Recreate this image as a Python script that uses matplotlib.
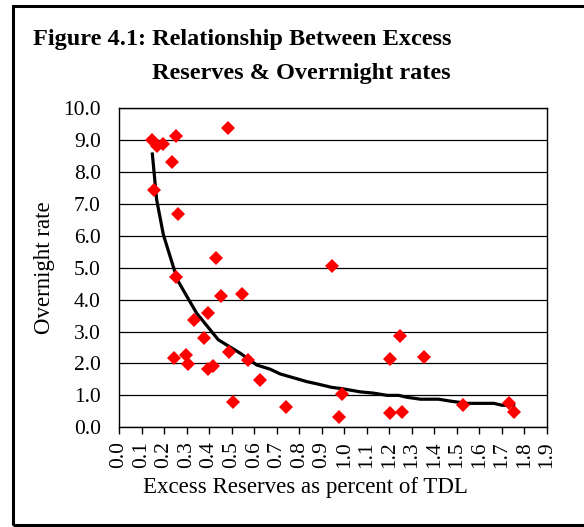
import matplotlib
matplotlib.use("Agg")
import matplotlib.pyplot as plt
from matplotlib.patches import Rectangle

# excess reserves (% of TDL) vs overnight rate
reserves = [0.147, 0.168, 0.196, 0.255, 0.237, 0.156, 0.261, 0.486, 0.430,
            0.253, 0.452, 0.548, 0.333, 0.394, 0.379, 0.244, 0.298, 0.308,
            0.394, 0.416, 0.490, 0.572, 0.627, 0.504, 0.742, 0.945, 0.990,
            0.975, 1.201, 1.246, 1.352, 1.201, 1.256, 1.528, 1.733, 1.752]
rates = [9.00, 8.82, 8.87, 9.13, 8.32, 7.44, 6.68, 9.36, 5.30,
         4.70, 4.12, 4.18, 3.36, 3.57, 2.81, 2.18, 2.27, 1.97,
         1.82, 1.93, 2.37, 2.11, 1.48, 0.80, 0.65, 5.06, 1.03,
         0.31, 2.13, 2.87, 2.19, 0.44, 0.49, 0.70, 0.77, 0.49]

# fitted trend line as drawn in the original
trend_x = [0.148, 0.167, 0.197, 0.259, 0.293, 0.345, 0.441, 0.478, 0.538,
           0.612, 0.671, 0.716, 0.790, 0.834, 0.879, 0.945, 0.990, 1.071,
           1.130, 1.190, 1.241, 1.279, 1.338, 1.419, 1.471, 1.545, 1.664,
           1.701, 1.752]
trend_y = [8.56, 7.13, 6.03, 4.62, 4.20, 3.57, 2.74, 2.58, 2.32,
           1.95, 1.82, 1.67, 1.52, 1.43, 1.36, 1.25, 1.21, 1.11,
           1.07, 1.00, 1.00, 0.94, 0.88, 0.88, 0.82, 0.75, 0.75,
           0.69, 0.69]

x_ticks = [i / 10 for i in range(20)]
y_ticks = list(range(11))

plt.rcParams["font.family"] = "Liberation Serif"

fig = plt.figure(figsize=(5.84, 5.27), dpi=100)
ax = fig.add_axes([0.2038, 0.1892, 0.7328, 0.6058])

ax.plot(trend_x, trend_y, color="black", lw=2.3, zorder=3)
ax.plot(reserves, rates, ls="none", marker="D", ms=7.5, color="red",
        markeredgewidth=0, zorder=4)

ax.set_xlim(0, 1.9)
ax.set_ylim(0, 10)
ax.set_xticks(x_ticks)
ax.set_xticklabels([f"{v:.1f}" for v in x_ticks], rotation=90, fontsize=15.5)
ax.set_yticks(y_ticks)
ax.set_yticklabels([f"{v:.1f}" for v in y_ticks], fontsize=15.5)
ax.tick_params(axis="x", direction="out", length=5, width=1, pad=5)
ax.tick_params(axis="y", length=0, pad=13)
ax.grid(axis="y", color="black", lw=0.9)
ax.set_axisbelow(True)
for sp in ax.spines.values():
    sp.set_linewidth(1.0)

ax.set_ylabel("Overnight rate", fontsize=16.5, labelpad=6)
fig.text(305 / 584, 1 - 488 / 527, "Excess Reserves as percent of TDL",
         fontsize=16.5, ha="center", va="center")

fig.text(33 / 584, 1 - 39 / 527, "Figure 4.1: Relationship Between Excess",
         fontsize=17.5, fontweight="bold", ha="left", va="center")
fig.text(152 / 584, 1 - 73 / 527, "Reserves & Overrnight rates",
         fontsize=17.5, fontweight="bold", ha="left", va="center")

fig.patches.append(Rectangle((13 / 584, 1 - 524.5 / 527), 1.0,
                             (524.5 - 5.5) / 527, transform=fig.transFigure,
                             fill=False, edgecolor="black", lw=2.2,
                             clip_on=False))

fig.savefig("out.png", dpi=100)
